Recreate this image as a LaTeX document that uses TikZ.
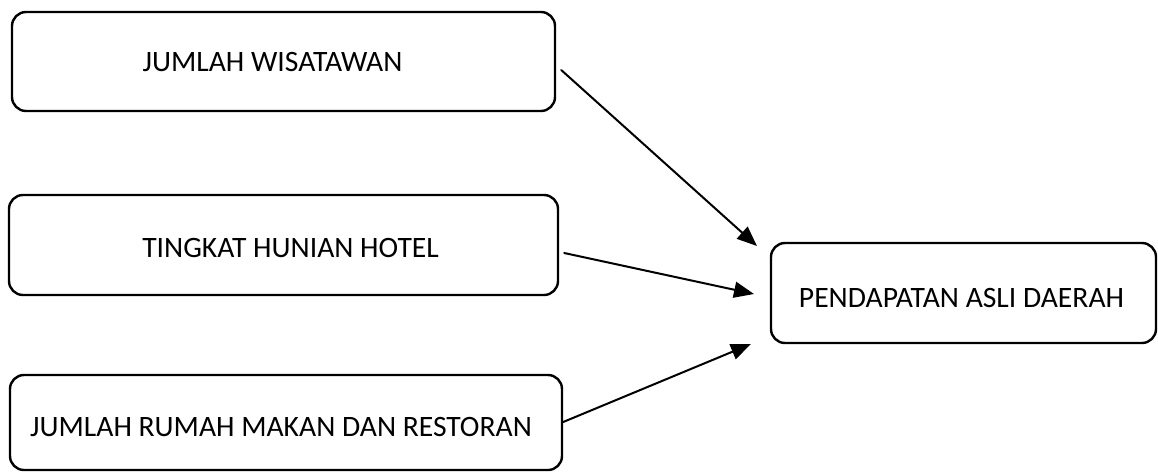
\documentclass[tikz,border=0pt]{standalone}
\usepackage{fontspec}
\setmainfont{Carlito}
\usetikzlibrary{arrows.meta}
\begin{document}
\begin{tikzpicture}[x=0.5pt, y=-0.5pt, font=\fontsize{14.8}{17}\selectfont, line join=round, line cap=round,
	kotak/.style={draw, line width=1.2pt, rounded corners=7pt, inner sep=0pt},
	panah/.style={-{Triangle[length=10pt,width=8pt]}, line width=1pt}]
	\useasboundingbox (0,0) rectangle (1158,472);
	\node[kotak, minimum width=271.5pt, minimum height=49.5pt] (wisatawan) at (283.5,61.5) {};
	\node[kotak, minimum width=274.5pt, minimum height=50pt] (hotel) at (283.5,245) {};
	\node[kotak, minimum width=276pt, minimum height=47.5pt] (restoran) at (286,422.5) {};
	\node[kotak, minimum width=192.5pt, minimum height=50pt] (pad) at (963.5,293) {};
	% teks
	\node (t-wisatawan) at ([shift={(-11,0)}]wisatawan.center) {JUMLAH WISATAWAN};
	\node (t-hotel) at ([shift={(7,2.5)}]hotel.center) {TINGKAT HUNIAN HOTEL};
	\node (t-restoran) at ([shift={(-5,4.5)}]restoran.center) {JUMLAH RUMAH MAKAN DAN RESTORAN};
	\node (t-pad) at ([shift={(-2,4.5)}]pad.center) {PENDAPATAN ASLI DAERAH};
	% ujung panah
	\coordinate (t1) at (757,246);
	\coordinate (t2) at (754,294);
	\coordinate (t3) at (751,344);
	\draw[panah] ([xshift=2.5pt]wisatawan.east|-0,70) -- (t1);
	\draw[panah] ([xshift=2.5pt]hotel.east|-0,253) -- (t2);
	\draw[panah] (restoran.east|-0,422) -- (t3);
\end{tikzpicture}
\end{document}
